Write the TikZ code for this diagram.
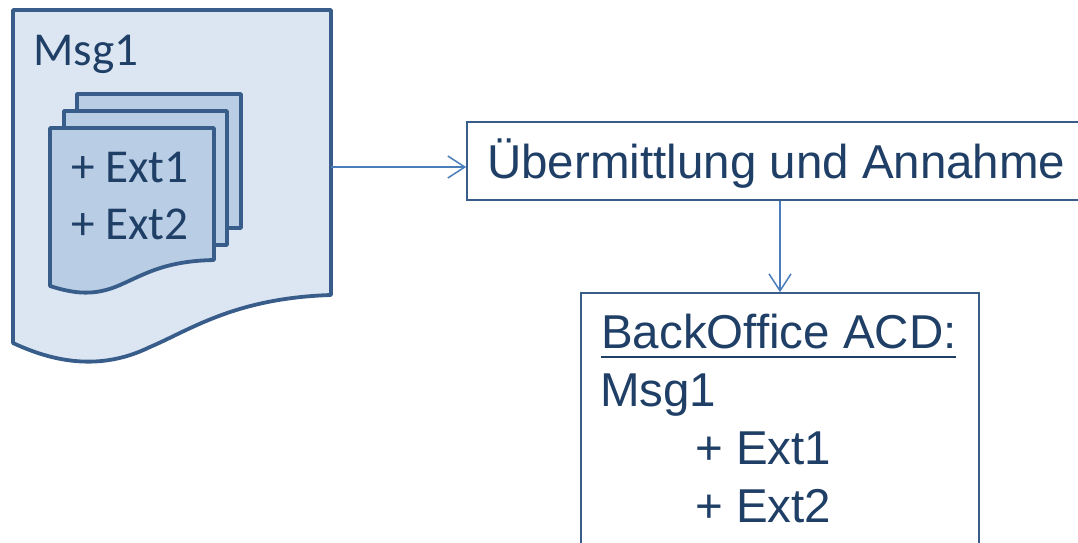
\documentclass[tikz,border=0pt]{standalone}
\usepackage{fontspec}
\setmainfont{Liberation Sans}
\newfontfamily\calfont{Carlito}
\usetikzlibrary{arrows.meta}
\definecolor{docline}{HTML}{385D8A}
\definecolor{docfill}{HTML}{DCE6F2}
\definecolor{innerfill}{HTML}{B9CDE5}
\definecolor{txt}{HTML}{1F3F66}
\definecolor{conn}{HTML}{4A7EBB}
\tikzset{
  x=1pt,y=-1pt,
  docshape/.style={draw=docline,line width=3.8pt,line join=round},
  boxnode/.style={draw=docline,line width=1.6pt,fill=white,inner sep=0pt},
  conline/.style={draw=conn,line width=1.5pt,-{Straight Barb[length=17pt,width=22pt,line width=1.5pt]}},
  caltext/.style={inner sep=0pt,text=txt,anchor=base west,font=\calfont\fontsize{47.2}{54}\selectfont},
  arialtext/.style={inner sep=0pt,text=txt,anchor=base west,font=\fontsize{47.5}{54}\selectfont}
}
\begin{document}
\begin{tikzpicture}
\useasboundingbox (0,0) rectangle (1078,542);
\clip (0,0) rectangle (1078,542);
% main document
\path[docshape,fill=docfill] (13,10) -- (331,10) -- (331,295)
  .. controls (235,298) and (190,330) .. (150,347)
  .. controls (105,369) and (60,365) .. (13,343) -- cycle;
\node[minimum width=318pt,minimum height=314pt,inner sep=0pt] (msg) at (172,167) {};
% stacked pages
\path[docshape,fill=innerfill] (77,94) -- (241,94) -- (241,228) -- (77,228) -- cycle;
\path[docshape,fill=innerfill] (64,111) -- (227,111) -- (227,245) -- (64,245) -- cycle;
\path[docshape,fill=innerfill] (50,128) -- (214,128) -- (214,260)
  .. controls (165,261) and (145,274) .. (120,285)
  .. controls (95,296) and (75,294) .. (50,286) -- cycle;
% texts on document
\node[caltext] (tmsg) at (33,65) {Msg1};
\node[caltext] (text1) at (71,182) {+ Ext1};
\node[caltext] (text2) at (71,239.5) {+ Ext2};
% boxes
\node[boxnode,minimum width=626pt,minimum height=78pt] (up) at (780,161) {};
\node[boxnode,minimum width=398pt,minimum height=280pt] (low) at (780,433) {};
\node[arialtext] (tup) at (487,178) {Übermittlung und Annahme};
\node[arialtext] (thead) at (601,348) {BackOffice ACD:};
\draw[txt,line width=1.8pt] (thead.base west)++(0,9) -- ++(355,0);
\node[arialtext] (tm) at (600,406) {Msg1};
\node[arialtext] (te1) at (695,464) {+ Ext1};
\node[arialtext] (te2) at (695,522) {+ Ext2};
% connectors
\draw[conline] (msg.east) -- (msg.east -| up.west);
\draw[conline] (up.south) -- (low.north);
\end{tikzpicture}
\end{document}
